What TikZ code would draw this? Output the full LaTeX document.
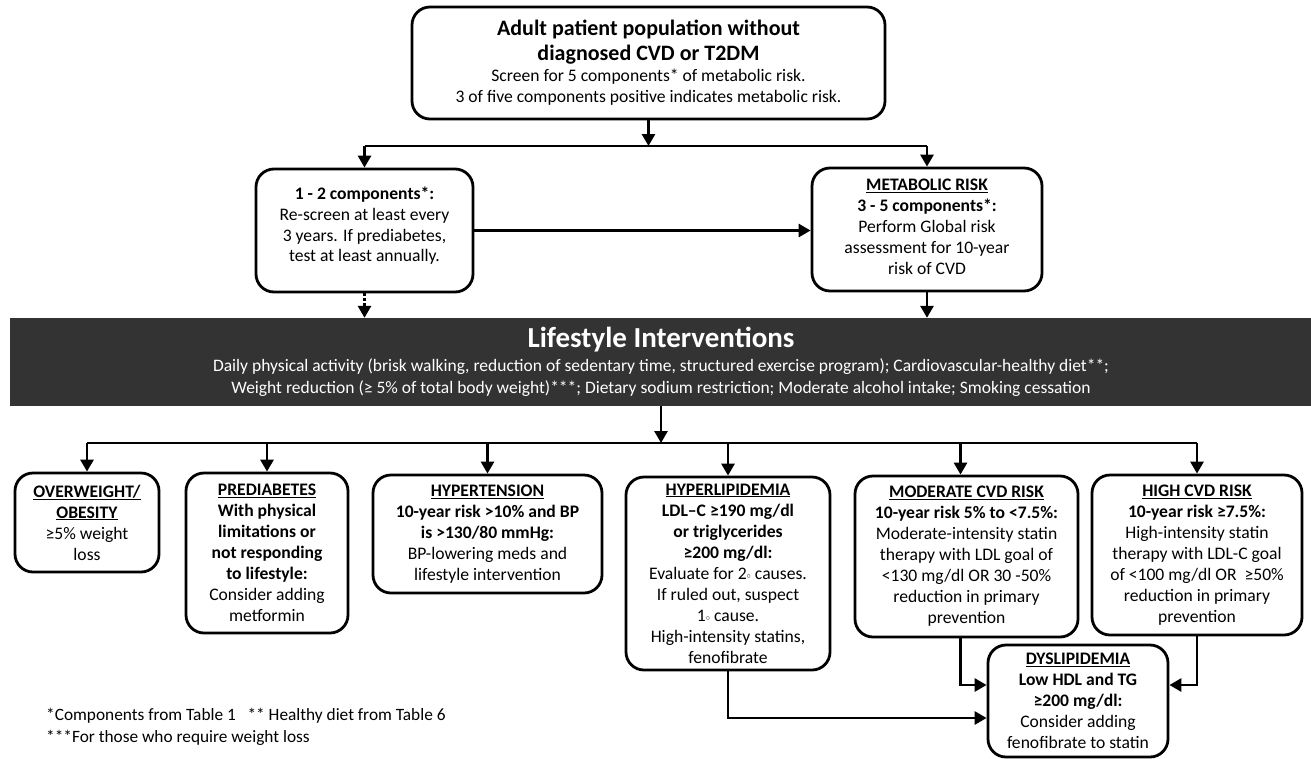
\documentclass[tikz,border=0pt]{standalone}
\usepackage{fontspec}
\setmainfont{Carlito}
\usetikzlibrary{arrows.meta}
\definecolor{bandgray}{HTML}{333333}
\newcommand\sdeg{\raisebox{1pt}{\fontsize{8}{8}\selectfont$\circ$}}
\begin{document}
\begin{tikzpicture}[x=1pt,y=-1pt,
  box/.style={draw=black, line width=2.8pt, rounded corners=18pt, align=center,
    font=\fontsize{17.6}{21}\selectfont, inner sep=0pt},
  txt/.style={align=center, inner sep=0pt},
  arr/.style={line width=2.8pt, -{Triangle[length=12pt,width=13pt]}},
  ln/.style={line width=2.8pt}]
\useasboundingbox (0,0) rectangle (1311,758);

% top part
\node[box, minimum width=473pt, minimum height=112pt] (top) at (648.5,63) {};
\node[txt, font=\bfseries\fontsize{22}{25}\selectfont] (toptitle) at (648.5,42.5)
  {Adult patient population without\\
   diagnosed CVD or T2DM};
\node[txt, font=\fontsize{17.6}{21}\selectfont] (topbody) at (648.5,87.5)
  {Screen for 5 components* of metabolic risk.\\
   3 of five components positive indicates metabolic risk.};
\node[box, minimum width=217pt, minimum height=123pt] (left) at (364.5,230.5) {};
\node[txt, font=\fontsize{17.6}{20.7}\selectfont] (lefttext) at (364.5,226)
  {\textbf{1 - 2 components*:}\\
   Re-screen at least every\\
   3 years. If prediabetes,\\
   test at least annually.};
\node[box, minimum width=230pt, minimum height=123pt] (right) at (927,229.5) {};
\node[txt, font=\fontsize{17.6}{21}\selectfont] (righttext) at (927,227)
  {\underline{\textbf{METABOLIC RISK}}\\
   \textbf{3 - 5 components*:}\\
   Perform Global risk\\
   assessment for 10-year\\
   risk of CVD};
\coordinate (split) at (648,146);

% banner
\node[fill=bandgray, minimum width=1301pt, minimum height=88pt, inner sep=0pt] (band) at (660.5,362) {};
\node[text=white, font=\bfseries\fontsize{29}{29}\selectfont] (lt) at (661,340) {Lifestyle Interventions};
\node[text=white, font=\fontsize{17.5}{22.5}\selectfont, align=center] (lb) at (661,377.5)
  {Daily physical activity (brisk walking, reduction of sedentary time, structured exercise program); Cardiovascular-healthy diet**;\\
   Weight reduction (≥ 5\% of total body weight)***; Dietary sodium restriction; Moderate alcohol intake; Smoking cessation};
\coordinate (hub) at (661,443);

% bottom boxes
\node[box, minimum width=144pt, minimum height=99pt] (ow) at (87,522.5)
  {\underline{\textbf{OVERWEIGHT/}}\\
   \underline{\textbf{OBESITY}}\\
   ≥5\% weight\\
   loss};
\node[box, minimum width=162pt, minimum height=160pt] (pre) at (267,553)
  {\underline{\textbf{PREDIABETES}}\\
   \textbf{With physical}\\
   \textbf{limitations or}\\
   \textbf{not responding}\\
   \textbf{to lifestyle:}\\
   Consider adding\\
   metformin};
\node[box, minimum width=229pt, minimum height=118pt] (ht) at (487.5,534)
  {\underline{\textbf{HYPERTENSION}}\\
   \textbf{10-year risk >10\% and BP}\\
   \textbf{is >130/80 mmHg:}\\
   BP-lowering meds and\\
   lifestyle intervention};
\node[box, minimum width=204pt, minimum height=193pt] (hl) at (728,573.5)
  {\underline{\textbf{HYPERLIPIDEMIA}}\\
   \textbf{LDL–C ≥190 mg/dl}\\
   \textbf{or triglycerides}\\
   \textbf{≥200 mg/dl:}\\
   Evaluate for 2\sdeg{} causes.\\
   If ruled out, suspect\\
   1\sdeg{} cause.\\
   High-intensity statins,\\
   fenofibrate};
\node[box, minimum width=223pt, minimum height=161pt] (mod) at (966.5,556.5)
  {\underline{\textbf{MODERATE CVD RISK}}\\
   \textbf{10-year risk 5\% to <7.5\%:}\\
   Moderate-intensity statin\\
   therapy with LDL goal of\\
   <130 mg/dl OR 30 -50\%\\
   reduction in primary\\
   prevention};
\node[box, minimum width=210pt, minimum height=160pt] (high) at (1197,555)
  {\underline{\textbf{HIGH CVD RISK}}\\
   \textbf{10-year risk ≥7.5\%:}\\
   High-intensity statin\\
   therapy with LDL-C goal\\
   of <100 mg/dl OR \ ≥50\%\\
   reduction in primary\\
   prevention};
\node[box, minimum width=180pt, minimum height=112pt] (dys) at (1078,701)
  {\underline{\textbf{DYSLIPIDEMIA}}\\
   \textbf{Low HDL and TG}\\
   \textbf{≥200 mg/dl:}\\
   Consider adding\\
   fenofibrate to statin};

% footnotes
\node[anchor=west, align=left, inner sep=0pt, font=\fontsize{17.3}{22}\selectfont] (fn) at (46,727)
  {*Components from Table 1 \ \ ** Healthy diet from Table 6\\
   ***For those who require weight loss};

% connectors top
\draw[arr] (top.south) -- (top.south |- split);
\draw[ln] (left.north |- split) -- (right.north |- split);
\draw[arr] (left.north |- split) -- (left.north);
\draw[arr] (right.north |- split) -- (right.north);
\draw[arr] (left.east) -- (left.east -| right.west);
\draw[arr, dotted] (left.south) -- (left.south |- band.north);
\draw[arr] (right.south) -- (right.south |- band.north);

% connectors bottom
\draw[arr] (band.south -| hub) -- (hub);
\draw[ln] (ow.north |- hub) -- (high.north |- hub);
\foreach \b in {ow,pre,ht,hl,high}{
  \draw[arr] (\b.north |- hub) -- (\b.north);
}
\draw[arr] ([xshift=-6pt]mod.north |- hub) -- ([xshift=-6pt]mod.north);
\draw[arr] ([xshift=-6pt]mod.south) |- ([yshift=16pt]dys.west);
\draw[arr] (high.south) |- ([yshift=16pt]dys.east);
\draw[arr] (hl.south) |- ([yshift=-17pt]dys.west);
\end{tikzpicture}
\end{document}
